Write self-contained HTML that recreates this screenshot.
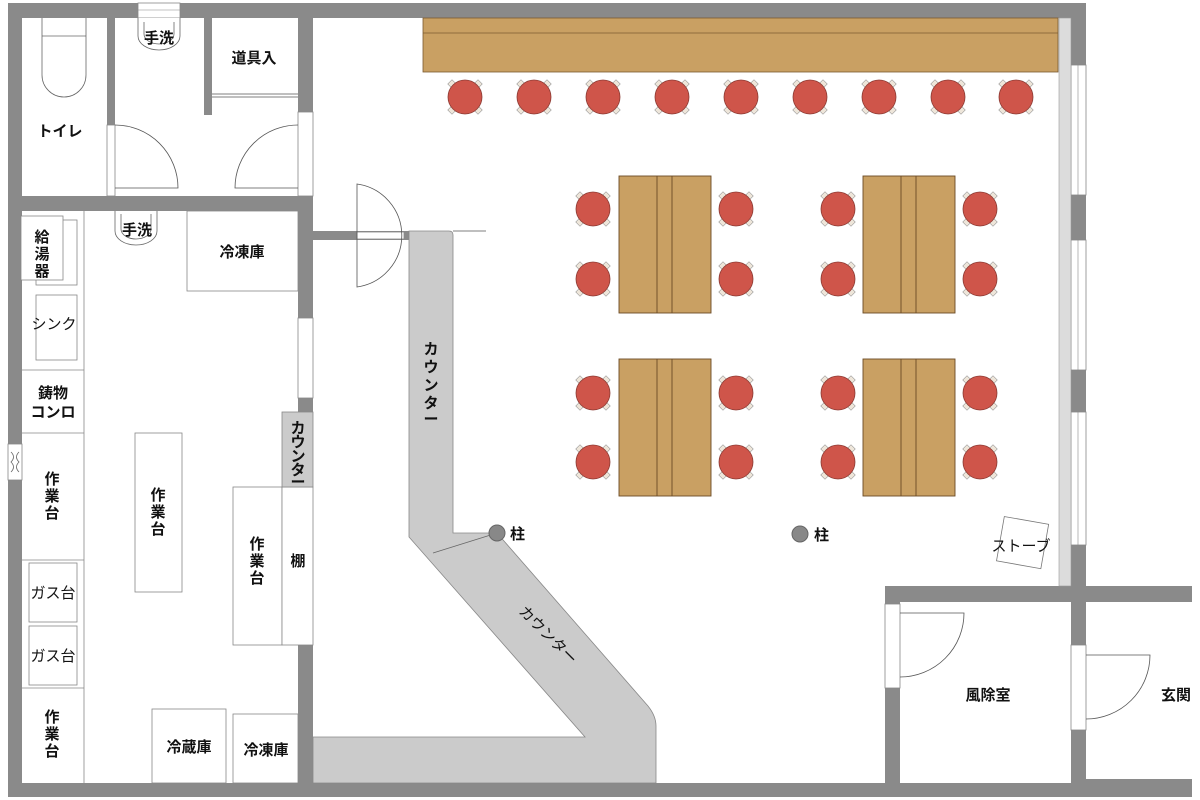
<!DOCTYPE html>
<html><head><meta charset="utf-8"><style>
html,body{margin:0;padding:0;background:#fff;}
svg{display:block;}
text{font-family:"Liberation Sans","Noto Sans CJK JP",sans-serif;font-size:15px;fill:#111;font-weight:bold;}
</style></head><body>
<svg width="1200" height="800" viewBox="0 0 1200 800" xmlns="http://www.w3.org/2000/svg">
<defs>
<g id="st">
<rect x="-16" y="-16" width="6" height="6" transform="rotate(45 -13 -13)" fill="#eee6da" stroke="#999" stroke-width="0.6"/>
<rect x="10" y="-16" width="6" height="6" transform="rotate(45 13 -13)" fill="#eee6da" stroke="#999" stroke-width="0.6"/>
<rect x="-16" y="10" width="6" height="6" transform="rotate(45 -13 13)" fill="#eee6da" stroke="#999" stroke-width="0.6"/>
<rect x="10" y="10" width="6" height="6" transform="rotate(45 13 13)" fill="#eee6da" stroke="#999" stroke-width="0.6"/>
<circle r="17" fill="#cf554a" stroke="#8a3a33" stroke-width="0.8"/>
</g>
</defs>
<g fill="#8a8a8a">
<!-- outer walls -->
<rect x="8" y="3" width="1077" height="15"/>
<rect x="8" y="3" width="14" height="794"/>
<rect x="8" y="783" width="877" height="14"/>
<rect x="1071" y="3" width="15" height="794"/>
<rect x="298" y="3" width="15" height="794"/>
<rect x="8" y="196" width="305" height="15"/>
<rect x="107" y="18" width="8" height="178"/>
<rect x="204" y="18" width="8" height="97"/>
<rect x="885" y="586" width="307" height="16"/>
<rect x="885" y="586" width="15" height="211"/>
<rect x="885" y="783" width="200" height="14"/>
<rect x="1086" y="779" width="106" height="18"/>
<rect x="313" y="231" width="96" height="9"/>
</g>
<!-- windows/openings -->
<g fill="#fff" stroke="#888" stroke-width="0.8">
<rect x="138" y="3" width="42" height="15"/>
<rect x="298" y="112" width="15" height="84"/>
<rect x="298" y="318" width="15" height="80"/>
<rect x="1071" y="65" width="15" height="130"/>
<rect x="1071" y="240" width="15" height="130"/>
<rect x="1071" y="412" width="15" height="133"/>
<rect x="885" y="604" width="15" height="84"/>
<rect x="1071" y="645" width="15" height="85"/>
<rect x="107" y="125" width="8" height="71"/>
<rect x="357" y="232" width="47" height="7"/>
<rect x="8" y="444" width="14" height="36"/>
</g>
<line x1="138" y1="10" x2="180" y2="10" stroke="#888" stroke-width="0.6"/>
<line x1="1078" y1="65" x2="1078" y2="195" stroke="#888" stroke-width="0.6"/>
<line x1="1078" y1="240" x2="1078" y2="370" stroke="#888" stroke-width="0.6"/>
<line x1="1078" y1="412" x2="1078" y2="545" stroke="#888" stroke-width="0.6"/>
<path d="M11 452 q5 5 0 10 q5 5 0 10 M19 452 q-5 5 0 10 q-5 5 0 10" fill="none" stroke="#666" stroke-width="0.8"/>
<rect x="1059" y="18" width="12" height="568" fill="#dcdcdc" stroke="#999" stroke-width="0.6"/>

<!-- doors -->
<g fill="none" stroke="#555" stroke-width="0.8">
<path d="M115 125 A63 63 0 0 1 178 188 L115 188"/>
<path d="M298 125 A63 63 0 0 0 235 188 L298 188"/>
<path d="M357 184 A52 52 0 0 1 357 287 Z"/>
<path d="M900 613 L964 613 A64 64 0 0 1 900 677"/>
<path d="M1086 655 L1150 655 A64 64 0 0 1 1086 719"/>
<line x1="453" y1="231" x2="486" y2="231"/>
<line x1="212" y1="94" x2="298" y2="94"/>
<line x1="212" y1="97" x2="298" y2="97"/>
</g>

<!-- toilet area -->
<g fill="#fff" stroke="#666" stroke-width="0.8">
<path d="M42 18 V75 A22 22 0 0 0 86 75 V18"/>
<line x1="42" y1="36" x2="86" y2="36"/>
<path d="M138 18 V36 A21 14 0 0 0 180 36 V18"/>
<path d="M144 22 V34 A15 10 0 0 0 174 34 V22"/>
<path d="M115 211 V231 A21 14 0 0 0 157 231 V211"/>
<path d="M121 214 V229 A15 10 0 0 0 151 229 V214"/>
</g>
<text x="60" y="136" text-anchor="middle">トイレ</text>
<text x="159" y="43" text-anchor="middle">手洗</text>
<text x="254" y="63" text-anchor="middle">道具入</text>
<text x="137" y="235" text-anchor="middle">手洗</text>

<!-- kitchen -->
<g fill="#fff" stroke="#888" stroke-width="0.8">
<line x1="84" y1="211" x2="84" y2="783"/>
<rect x="36" y="220" width="41" height="65"/>
<rect x="21" y="216" width="42" height="64"/>
<rect x="36" y="295" width="41" height="65"/>
<line x1="22" y1="370" x2="84" y2="370"/>
<line x1="22" y1="433" x2="84" y2="433"/>
<line x1="22" y1="560" x2="84" y2="560"/>
<line x1="22" y1="688" x2="84" y2="688"/>
<rect x="29" y="563" width="48" height="59"/>
<rect x="29" y="626" width="48" height="59"/>
<rect x="187" y="211" width="111" height="80"/>
<rect x="135" y="433" width="47" height="159"/>
<rect x="233" y="487" width="49" height="158"/>
<rect x="282" y="487" width="31" height="158"/>
<rect x="152" y="709" width="74" height="74"/>
<rect x="233" y="714" width="65" height="69"/>
</g>
<rect x="282" y="412" width="31" height="75" fill="#cbcbcb" stroke="#888" stroke-width="0.8"/>
<text x="42" y="242" text-anchor="middle">給</text>
<text x="42" y="259" text-anchor="middle">湯</text>
<text x="42" y="276" text-anchor="middle">器</text>
<text x="54" y="329" text-anchor="middle" style="font-weight:normal">シンク</text>
<text x="53" y="398" text-anchor="middle">鋳物</text>
<text x="53" y="417" text-anchor="middle">コンロ</text>
<text x="52" y="484" text-anchor="middle">作</text><text x="52" y="501" text-anchor="middle">業</text><text x="52" y="518" text-anchor="middle">台</text>
<text x="52" y="722" text-anchor="middle">作</text><text x="52" y="739" text-anchor="middle">業</text><text x="52" y="756" text-anchor="middle">台</text>
<text x="158" y="500" text-anchor="middle">作</text><text x="158" y="517" text-anchor="middle">業</text><text x="158" y="534" text-anchor="middle">台</text>
<text x="257" y="549" text-anchor="middle">作</text><text x="257" y="566" text-anchor="middle">業</text><text x="257" y="583" text-anchor="middle">台</text>
<text x="298" y="566" text-anchor="middle">棚</text>
<text x="53" y="598" text-anchor="middle" style="font-weight:normal">ガス台</text>
<text x="53" y="661" text-anchor="middle" style="font-weight:normal">ガス台</text>
<text x="242" y="257" text-anchor="middle">冷凍庫</text>
<text x="189" y="752" text-anchor="middle">冷蔵庫</text>
<text x="266" y="755" text-anchor="middle">冷凍庫</text>
<g style="font-size:13px;font-weight:normal" text-anchor="middle">
<text x="298" y="433">カ</text><text x="298" y="447">ウ</text><text x="298" y="461">ン</text><text x="298" y="475">タ</text><text x="298" y="487">ー</text>
</g>

<!-- counters -->
<path d="M409 231 H449 Q453 231 453 235 V533 H497 L648 706 Q656 716 656 726 V783 H313 V737 H585 L409 537 Z" fill="#cbcbcb" stroke="#888" stroke-width="0.8"/>
<line x1="433" y1="553" x2="497" y2="533" stroke="#666" stroke-width="0.8"/>
<g style="font-size:15px;font-weight:normal" text-anchor="middle">
<text x="431" y="354">カ</text><text x="431" y="372">ウ</text><text x="431" y="390">ン</text><text x="431" y="408">タ</text><text x="431" y="424">ー</text>
</g>
<text x="0" y="0" transform="translate(518 612) rotate(45)" style="font-size:15px;font-weight:normal">カウンター</text>

<circle cx="497" cy="533" r="8" fill="#888" stroke="#666"/>
<text x="510" y="539">柱</text>
<circle cx="800" cy="534" r="8" fill="#888" stroke="#666"/>
<text x="814" y="540">柱</text>

<!-- top counter -->
<rect x="423" y="18" width="635" height="54" fill="#c9a063" stroke="#7a5a30" stroke-width="0.8"/>
<line x1="423" y1="33" x2="1058" y2="33" stroke="#7a5a30" stroke-width="0.8"/>

<!-- tables -->
<g fill="#c9a063" stroke="#6a4a25" stroke-width="0.9">
<rect x="619" y="176" width="92" height="137"/><line x1="657" y1="176" x2="657" y2="313"/><line x1="672" y1="176" x2="672" y2="313"/>
<rect x="863" y="176" width="92" height="137"/><line x1="901" y1="176" x2="901" y2="313"/><line x1="916" y1="176" x2="916" y2="313"/>
<rect x="619" y="359" width="92" height="137"/><line x1="657" y1="359" x2="657" y2="496"/><line x1="672" y1="359" x2="672" y2="496"/>
<rect x="863" y="359" width="92" height="137"/><line x1="901" y1="359" x2="901" y2="496"/><line x1="916" y1="359" x2="916" y2="496"/>
</g>

<!-- stools -->
<use href="#st" x="465" y="97"/><use href="#st" x="534" y="97"/><use href="#st" x="603" y="97"/>
<use href="#st" x="672" y="97"/><use href="#st" x="741" y="97"/><use href="#st" x="810" y="97"/>
<use href="#st" x="879" y="97"/><use href="#st" x="948" y="97"/><use href="#st" x="1016" y="97"/>
<use href="#st" x="593" y="209"/><use href="#st" x="593" y="279"/><use href="#st" x="736" y="209"/><use href="#st" x="736" y="279"/>
<use href="#st" x="838" y="209"/><use href="#st" x="838" y="279"/><use href="#st" x="980" y="209"/><use href="#st" x="980" y="279"/>
<use href="#st" x="593" y="393"/><use href="#st" x="593" y="462"/><use href="#st" x="736" y="393"/><use href="#st" x="736" y="462"/>
<use href="#st" x="838" y="393"/><use href="#st" x="838" y="462"/><use href="#st" x="980" y="393"/><use href="#st" x="980" y="462"/>

<!-- stove -->
<rect x="1000" y="520" width="45" height="45" transform="rotate(10 1022 543)" fill="none" stroke="#777" stroke-width="0.8"/>
<text x="1021" y="551" text-anchor="middle" style="font-weight:normal">ストーブ</text>

<text x="988" y="700" text-anchor="middle">風除室</text>
<text x="1176" y="700" text-anchor="middle">玄関</text>
</svg>
</body></html>
